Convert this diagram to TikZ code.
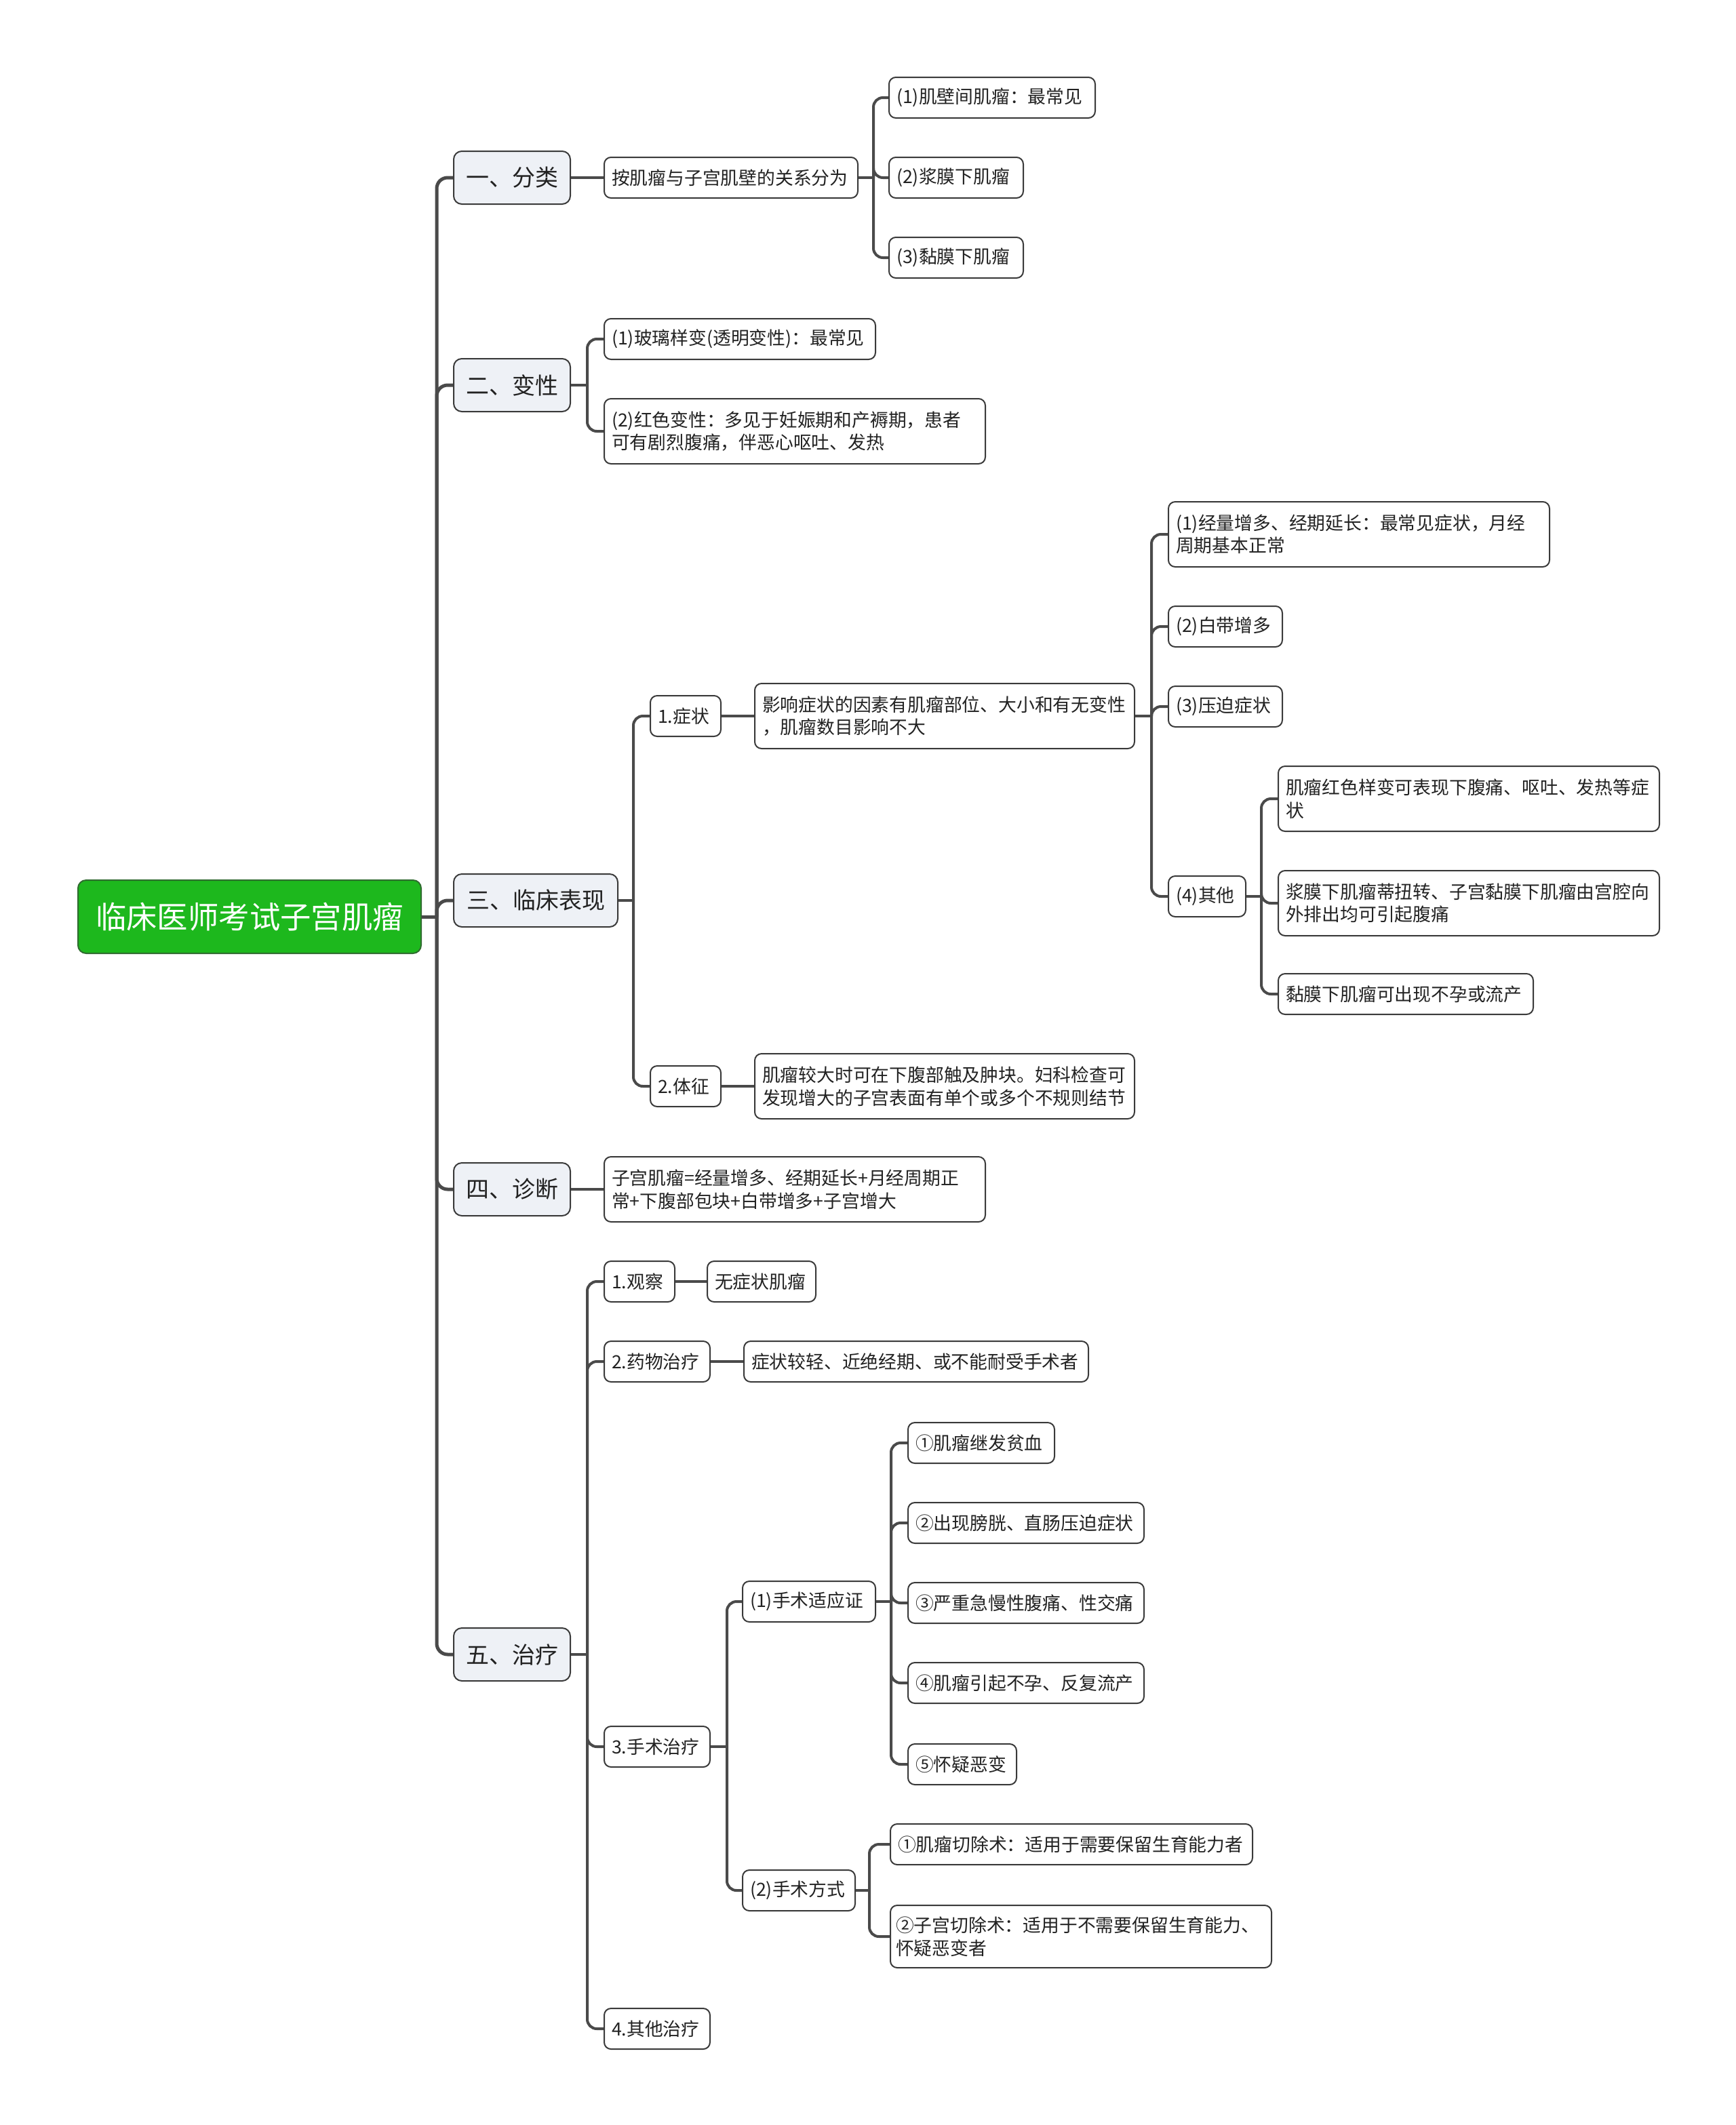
\documentclass[tikz,border=0pt]{standalone}
\usepackage{fontspec}
\setmainfont{Noto Sans CJK SC}
\usetikzlibrary{calc}
\definecolor{linec}{HTML}{4A4A4A}
\definecolor{bordc}{HTML}{3A3A3A}
\definecolor{txtc}{HTML}{222222}
\definecolor{lonefill}{HTML}{EEF1F6}
\definecolor{rootfill}{HTML}{1DB81D}
\definecolor{rootbord}{HTML}{2F6B2F}
\newcommand{\fsmall}{\fontsize{13.4}{16.8}\selectfont}
\newcommand{\fmid}{\fontsize{17}{20}\selectfont}
\newcommand{\fbig}{\fontsize{22.7}{26}\selectfont}
\begin{document}
\begin{tikzpicture}[x=1pt,y=-1pt,
  lk/.style={draw=linec, line width=2pt, rounded corners=7pt},
  trunk/.style={draw=linec, line width=2.5pt, rounded corners=8pt},
  bx/.style={draw=bordc, line width=1pt, rounded corners=5pt, fill=white, text=txtc,
    font=\fsmall, align=left, inner xsep=5.5pt, inner ysep=1pt, anchor=west,
    text width=#1, minimum height=30pt},
  dbl/.style={minimum height=48pt},
  lone/.style={draw=bordc, line width=1pt, rounded corners=6pt, fill=lonefill, text=txtc,
    font=\fmid, anchor=west, minimum height=39pt, inner xsep=4pt, align=center},
  rootbox/.style={draw=rootbord, line width=1pt, rounded corners=6pt, fill=rootfill,
    text=white, font=\fbig, anchor=west, minimum height=54pt, minimum width=253pt}
]
\useasboundingbox (0,0) rectangle (1280,1567);

% root and level 1
\node[rootbox] (root) at (57,676) {临床医师考试子宫肌瘤};
\node[lone, minimum width=86pt] (L1) at (334,131) {一、分类};
\node[lone, minimum width=86pt] (L2) at (334,284) {二、变性};
\node[lone, minimum width=121pt] (L3) at (334,664) {三、临床表现};
\node[lone, minimum width=86pt] (L4) at (334,877) {四、诊断};
\node[lone, minimum width=86pt] (L5) at (334,1220) {五、治疗};

% 一
\node[bx=176pt] (a0) at (445,131) {按肌瘤与子宫肌壁的关系分为};
\node[bx=141pt] (a1) at (655,72) {(1)肌壁间肌瘤：最常见};
\node[bx=88pt] (a2) at (655,131) {(2)浆膜下肌瘤};
\node[bx=88pt] (a3) at (655,190) {(3)黏膜下肌瘤};

% 二
\node[bx=189pt] (b1) at (445,250) {(1)玻璃样变(透明变性)：最常见};
\node[bx=270pt, dbl] (b2) at (445,318) {(2)红色变性：多见于妊娠期和产褥期，患者\\可有剧烈腹痛，伴恶心呕吐、发热};

% 三
\node[bx=41pt] (c1) at (479,528) {1.症状};
\node[bx=269pt, dbl] (c2) at (556,528) {影响症状的因素有肌瘤部位、大小和有无变性\\，肌瘤数目影响不大};
\node[bx=270pt, dbl] (c3) at (861,394) {(1)经量增多、经期延长：最常见症状，月经\\周期基本正常};
\node[bx=73pt] (c4) at (861,462) {(2)白带增多};
\node[bx=73pt] (c5) at (861,521) {(3)压迫症状};
\node[bx=46pt] (c6) at (861,661) {(4)其他};
\node[bx=270pt, dbl] (c7) at (942,589) {肌瘤红色样变可表现下腹痛、呕吐、发热等症\\状};
\node[bx=270pt, dbl] (c8) at (942,666) {浆膜下肌瘤蒂扭转、子宫黏膜下肌瘤由宫腔向\\外排出均可引起腹痛};
\node[bx=177pt] (c9) at (942,733) {黏膜下肌瘤可出现不孕或流产};
\node[bx=41pt] (d1) at (479,801) {2.体征};
\node[bx=269pt, dbl] (d2) at (556,801) {肌瘤较大时可在下腹部触及肿块。妇科检查可\\发现增大的子宫表面有单个或多个不规则结节};

% 四
\node[bx=270pt, dbl] (e1) at (445,877) {子宫肌瘤=经量增多、经期延长+月经周期正\\常+下腹部包块+白带增多+子宫增大};

% 五
\node[bx=41pt] (f1) at (445,945) {1.观察};
\node[bx=69pt] (f1a) at (521,945) {无症状肌瘤};
\node[bx=67pt] (f2) at (445,1004) {2.药物治疗};
\node[bx=243pt] (f2a) at (548,1004) {症状较轻、近绝经期、或不能耐受手术者};
\node[bx=67pt] (f3) at (445,1288) {3.手术治疗};
\node[bx=87pt] (g1) at (547,1181) {(1)手术适应证};
\node[bx=97pt] (g1a) at (669,1064) {①肌瘤继发贫血};
\node[bx=163pt] (g1b) at (669,1123) {②出现膀胱、直肠压迫症状};
\node[bx=163pt] (g1c) at (669,1182) {③严重急慢性腹痛、性交痛};
\node[bx=163pt] (g1d) at (669,1241) {④肌瘤引起不孕、反复流产};
\node[bx=69pt] (g1e) at (669,1301) {⑤怀疑恶变};
\node[bx=72pt] (g2) at (547,1394) {(2)手术方式};
\node[bx=256pt] (g2a) at (656,1360) {①肌瘤切除术：适用于需要保留生育能力者};
\node[bx=273pt, inner xsep=4pt, minimum height=46pt] (g2b) at (656,1428) {②子宫切除术：适用于不需要保留生育能力、\\怀疑恶变者};
\node[bx=67pt] (f4) at (445,1496) {4.其他治疗};

% junctions
\coordinate (jr) at (322,676);
\coordinate (ja) at (644,131);
\coordinate (jb) at (433,284);
\coordinate (jc) at (467,664);
\coordinate (jd) at (849,528);
\coordinate (je) at (930,661);
\coordinate (jf) at (433,1220);
\coordinate (jg) at (536,1288);
\coordinate (jh) at (657,1181);
\coordinate (ji) at (641,1394);

% connectors
\draw[trunk] (root.east) -- (jr);
\foreach \n in {L1,L2,L3,L4,L5} \draw[trunk] (jr) |- (\n.west);

\draw[lk] (L1.east) -- (a0.west);
\draw[lk] (a0.east) -- (ja);
\foreach \n in {a1,a2,a3} \draw[lk] (ja) |- (\n.west);

\draw[lk] (L2.east) -- (jb);
\foreach \n in {b1,b2} \draw[lk] (jb) |- (\n.west);

\draw[lk] (L3.east) -- (jc);
\foreach \n in {c1,d1} \draw[lk] (jc) |- (\n.west);
\draw[lk] (c1.east) -- (c2.west);
\draw[lk] (c2.east) -- (jd);
\foreach \n in {c3,c4,c5,c6} \draw[lk] (jd) |- (\n.west);
\draw[lk] (c6.east) -- (je);
\foreach \n in {c7,c8,c9} \draw[lk] (je) |- (\n.west);
\draw[lk] (d1.east) -- (d2.west);

\draw[lk] (L4.east) -- (e1.west);

\draw[lk] (L5.east) -- (jf);
\foreach \n in {f1,f2,f3,f4} \draw[lk] (jf) |- (\n.west);
\draw[lk] (f1.east) -- (f1a.west);
\draw[lk] (f2.east) -- (f2a.west);
\draw[lk] (f3.east) -- (jg);
\foreach \n in {g1,g2} \draw[lk] (jg) |- (\n.west);
\draw[lk] (g1.east) -- (jh);
\foreach \n in {g1a,g1b,g1c,g1d,g1e} \draw[lk] (jh) |- (\n.west);
\draw[lk] (g2.east) -- (ji);
\foreach \n in {g2a,g2b} \draw[lk] (ji) |- (\n.west);
\end{tikzpicture}
\end{document}
